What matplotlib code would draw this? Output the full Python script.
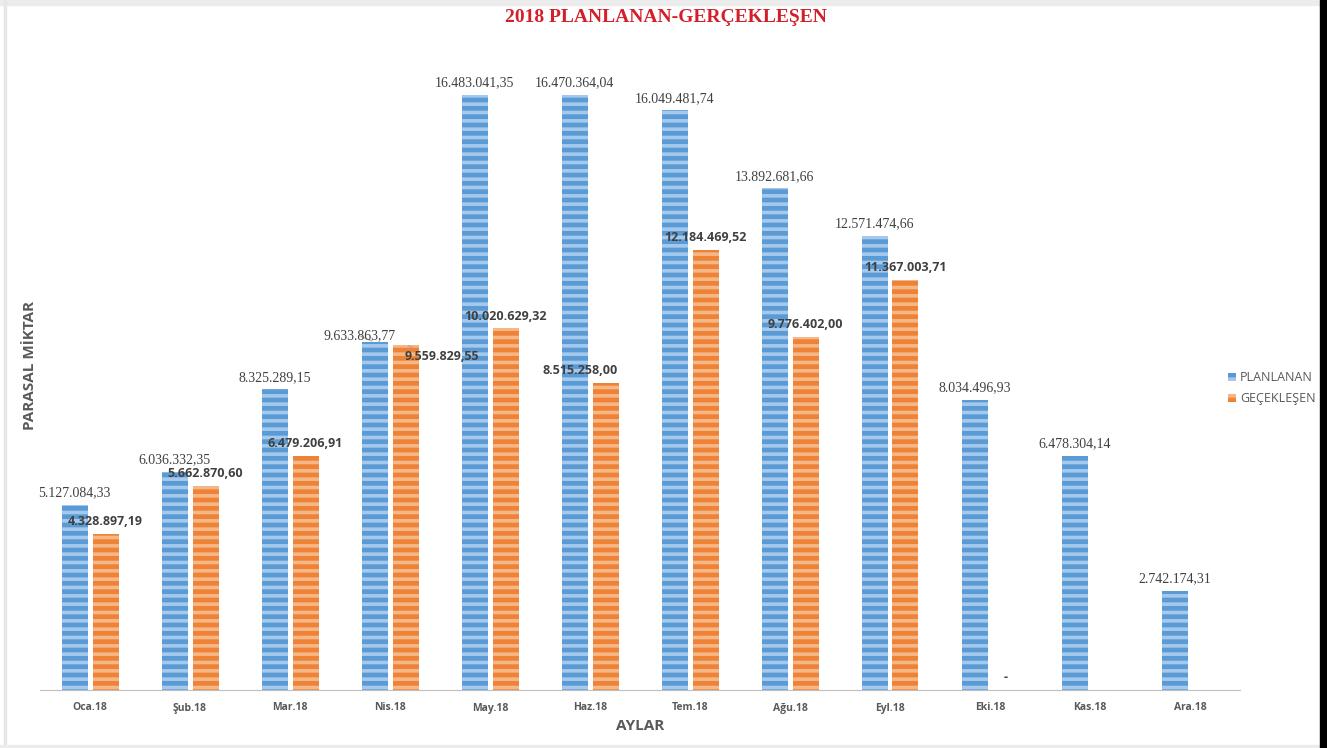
import matplotlib.pyplot as plt
from matplotlib.patches import Rectangle
import numpy as np

months = ["Oca.18", "Şub.18", "Mar.18", "Nis.18", "May.18", "Haz.18",
          "Tem.18", "Ağu.18", "Eyl.18", "Eki.18", "Kas.18", "Ara.18"]
planlanan = [5127084.33, 6036332.35, 8325289.15, 9633863.77, 16483041.35, 16470364.04,
             16049481.74, 13892681.66, 12571474.66, 8034496.93, 6478304.14, 2742174.31]
gerceklesen = [4328897.19, 5662870.60, 6479206.91, 9559829.55, 10020629.32, 8515258.00,
               12184469.52, 9776402.00, 11367003.71, 0.0, None, None]


def tr_fmt(v):
    # Turkish number style: dot thousands, comma decimals
    if v == 0:
        return "-"
    s = f"{v:,.2f}"
    return s.replace(",", "X").replace(".", ",").replace("X", ".")


plt.rcParams['hatch.linewidth'] = 2.6

fig = plt.figure(figsize=(13.27, 7.48), dpi=100)
ax = fig.add_axes([40 / 1327, 58 / 748, 1200 / 1327, 650 / 748])

x = np.arange(len(months))
w = 0.26
off = 0.155

blue, blue_lt = "#5b9bd5", "#a4c9ec"
orng, orng_lt = "#ee8337", "#f6b787"

b1 = ax.bar(x - off, planlanan, w, color=blue, edgecolor=blue_lt, linewidth=0,
            hatch="--", label="PLANLANAN")
gx = [xi + off for xi, v in zip(x, gerceklesen) if v is not None]
gv = [v for v in gerceklesen if v is not None]
b2 = ax.bar(gx, gv, w, color=orng, edgecolor=orng_lt, linewidth=0,
            hatch="--", label="GEÇEKLEŞEN")

# value labels; a few are moved by hand (points) and get a leader line
p_shift = {3: (-11, -4)}
g_shift = {3: (26, -17), 5: (-18, 0)}
leader = dict(arrowstyle="-", color="#a6a6a6", lw=0.8, shrinkA=0, shrinkB=2)

for i, v in enumerate(planlanan):
    dx, dy = p_shift.get(i, (0, 0))
    ax.annotate(tr_fmt(v), (x[i] - off, v), xytext=(dx, 4 + dy), textcoords="offset points",
                ha="center", va="bottom", fontsize=10, family="Liberation Serif", color="#404040",
                arrowprops=leader if i in p_shift else None)
for i, v in enumerate(gerceklesen):
    if v is None:
        continue
    dx, dy = g_shift.get(i, (0, 0))
    ax.annotate(tr_fmt(v), (x[i] + off, v), xytext=(dx, 4 + dy), textcoords="offset points",
                ha="center", va="bottom", fontsize=9, family="Open Sans", weight="bold",
                color="#404040", arrowprops=leader if i == 3 else None)

ax.set_xlim(-0.5, len(months) - 0.5)
ax.set_ylim(0, 18e6)
ax.set_xticks(x)
ax.set_xticklabels(months, fontsize=7.5, family="Open Sans", weight="bold", color="#595959")
ax.tick_params(axis="x", length=0, pad=9)
ax.set_yticks([])
for s in ["top", "right", "left"]:
    ax.spines[s].set_visible(False)
ax.spines["bottom"].set_color("#bfbfbf")

ax.set_xlabel("AYLAR", fontsize=11, family="Open Sans", weight="bold", color="#595959", labelpad=4)
fig.text(30 / 1327, 1 - 365 / 748, "PARASAL MİKTAR", rotation=90, ha="center", va="center",
         fontsize=11, family="Open Sans", weight="bold", color="#595959")

fig.text(666 / 1327, 1 - 18 / 748, "2018 PLANLANAN-GERÇEKLEŞEN", ha="center", va="center",
         fontsize=14, family="Liberation Serif", weight="bold", color="#d41f2a")

leg = fig.legend(handles=[b1, b2], loc="center left", bbox_to_anchor=(1217 / 1327, 1 - 388 / 748),
                 frameon=False, handlelength=0.6, handleheight=0.6, handletextpad=0.35,
                 labelspacing=0.65, prop={"family": "Open Sans", "size": 9})
for t in leg.get_texts():
    t.set_color("#595959")

# scan frame: thin grey edges and dark strip on the right
fig.patches.append(Rectangle((0, 1 - 5 / 748), 1, 5 / 748, transform=fig.transFigure,
                             color="#ececec", zorder=10))
fig.patches.append(Rectangle((4 / 1327, 0), 2 / 1327, 1, transform=fig.transFigure,
                             color="#e6e6e6", zorder=10))
fig.patches.append(Rectangle((0, 0), 1, 3 / 748, transform=fig.transFigure,
                             color="#ececec", zorder=10))
fig.patches.append(Rectangle((1320 / 1327, 0), 7 / 1327, 1, transform=fig.transFigure,
                             color="black", zorder=10))

fig.savefig("out.png", dpi=100)
